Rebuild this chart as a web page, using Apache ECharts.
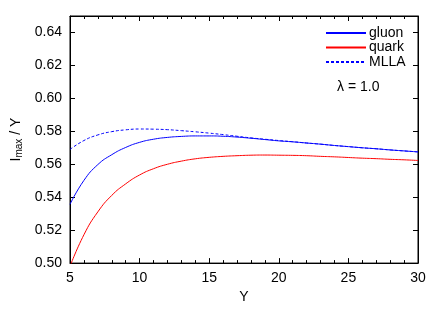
<!DOCTYPE html>
<html><head><meta charset="utf-8">
<script src="https://cdn.jsdelivr.net/npm/echarts@6/dist/echarts.min.js"></script>
<style>html,body{margin:0;padding:0;background:#fff}#c{width:442px;height:309px}</style>
</head><body><div id="c"></div>
<script>
const xValues = [5, 6, 7, 8, 9, 10, 11, 12, 13, 14, 15, 16, 17, 18, 19, 20, 21, 22, 23, 24, 25, 26, 27, 28, 29, 30];
const gluon = [0.5357, 0.5502, 0.5598, 0.5658, 0.5702, 0.5733, 0.5752, 0.5763, 0.5769, 0.5772, 0.5772, 0.5770, 0.5765, 0.5758, 0.5750, 0.5742, 0.5736, 0.5729, 0.5722, 0.5714, 0.5707, 0.5700, 0.5694, 0.5687, 0.5681, 0.5675];
const quark = [0.4980, 0.5172, 0.5311, 0.5411, 0.5481, 0.5535, 0.5573, 0.5600, 0.5619, 0.5633, 0.5642, 0.5648, 0.5652, 0.5655, 0.5656, 0.5655, 0.5654, 0.5652, 0.5648, 0.5645, 0.5641, 0.5637, 0.5634, 0.5630, 0.5627, 0.5623];
const mlla  = [0.5690, 0.5744, 0.5778, 0.5798, 0.5809, 0.5814, 0.5813, 0.5810, 0.5804, 0.5797, 0.5789, 0.5780, 0.5770, 0.5760, 0.5752, 0.5744, 0.5737, 0.5729, 0.5722, 0.5714, 0.5707, 0.5700, 0.5694, 0.5687, 0.5681, 0.5675];
const yTicks = [0.50, 0.52, 0.54, 0.56, 0.58, 0.60, 0.62, 0.64];
const labels = {gluon: 'gluon', quark: 'quark', mlla: 'MLLA'};

const pairs = (ys) => xValues.map((x, i) => [x, ys[i]]);
const font = 'Liberation Sans, Arial, Helvetica, sans-serif';
const chart = echarts.init(document.getElementById('c'));
const axisLine = {show: true, lineStyle: {color: '#000', width: 1}};
chart.setOption({
  animation: false,
  grid: {left: 70, right: 24, top: 16, bottom: 42, show: true, borderColor: '#000', borderWidth: 1},
  title: {text: 'λ = 1.0', left: 332, top: 75, textStyle: {fontFamily: font, fontSize: 14, fontWeight: 'normal', color: '#000'}},
  legend: {
    orient: 'vertical', left: 320, top: 21, itemWidth: 40, itemHeight: 13, itemGap: 0.5,
    itemStyle: {opacity: 0},
    textStyle: {fontFamily: font, fontSize: 14, color: '#000', padding: [0, 0, 0, -2]},
    data: [labels.gluon, labels.quark, labels.mlla]
  },
  xAxis: [{
    type: 'value', min: 5, max: 30, interval: 5, position: 'bottom',
    name: 'Y', nameLocation: 'middle', nameGap: 26,
    nameTextStyle: {fontFamily: font, fontSize: 14, color: '#000'},
    axisLine, axisTick: {inside: true, length: 5, lineStyle: {color: '#000'}},
    minorTick: {show: true, splitNumber: 5, length: 3, lineStyle: {color: '#000'}},
    axisLabel: {fontFamily: font, fontSize: 14, color: '#000', margin: 8},
    splitLine: {show: false}
  }, {
    type: 'value', min: 5, max: 30, interval: 5, position: 'top',
    axisLine, axisTick: {inside: true, length: 5, lineStyle: {color: '#000'}},
    minorTick: {show: true, splitNumber: 5, length: 3, lineStyle: {color: '#000'}},
    axisLabel: {show: false}, splitLine: {show: false}
  }],
  yAxis: [{
    type: 'value', min: 0.50, max: 0.65, interval: 0.02, position: 'left',
    name: '{a|I}{b|max}{a| / Y}', nameLocation: 'middle', nameGap: 46,
    nameTextStyle: {fontFamily: font, color: '#000', rich: {
      a: {fontFamily: font, fontSize: 14, color: '#000'},
      b: {fontFamily: font, fontSize: 10, color: '#000', verticalAlign: 'bottom', padding: [6, 0, 0, 0]}
    }},
    axisLine, axisTick: {inside: true, length: 5, lineStyle: {color: '#000'}},
    axisLabel: {fontFamily: font, fontSize: 14, color: '#000', margin: 8, showMaxLabel: false,
      formatter: v => yTicks.some(t => Math.abs(t - v) < 1e-9) ? v.toFixed(2) : ''},
    splitLine: {show: false}
  }, {
    type: 'value', min: 0.50, max: 0.65, interval: 0.02, position: 'right',
    axisLine, axisTick: {inside: true, length: 5, lineStyle: {color: '#000'}},
    axisLabel: {show: false}, splitLine: {show: false}
  }],
  series: [
    {name: labels.gluon, type: 'line', data: pairs(gluon), smooth: true, symbol: 'none', clip: true,
     lineStyle: {color: '#0000ff', width: 1}, itemStyle: {color: '#0000ff'}},
    {name: labels.quark, type: 'line', data: pairs(quark), smooth: true, symbol: 'none', clip: true,
     lineStyle: {color: '#ff0000', width: 1}, itemStyle: {color: '#ff0000'}},
    {name: labels.mlla, type: 'line', data: pairs(mlla), smooth: true, symbol: 'none', clip: true,
     lineStyle: {color: '#0000ff', width: 1, type: [3, 2]}, itemStyle: {color: '#0000ff'}}
  ]
});
</script></body></html>
